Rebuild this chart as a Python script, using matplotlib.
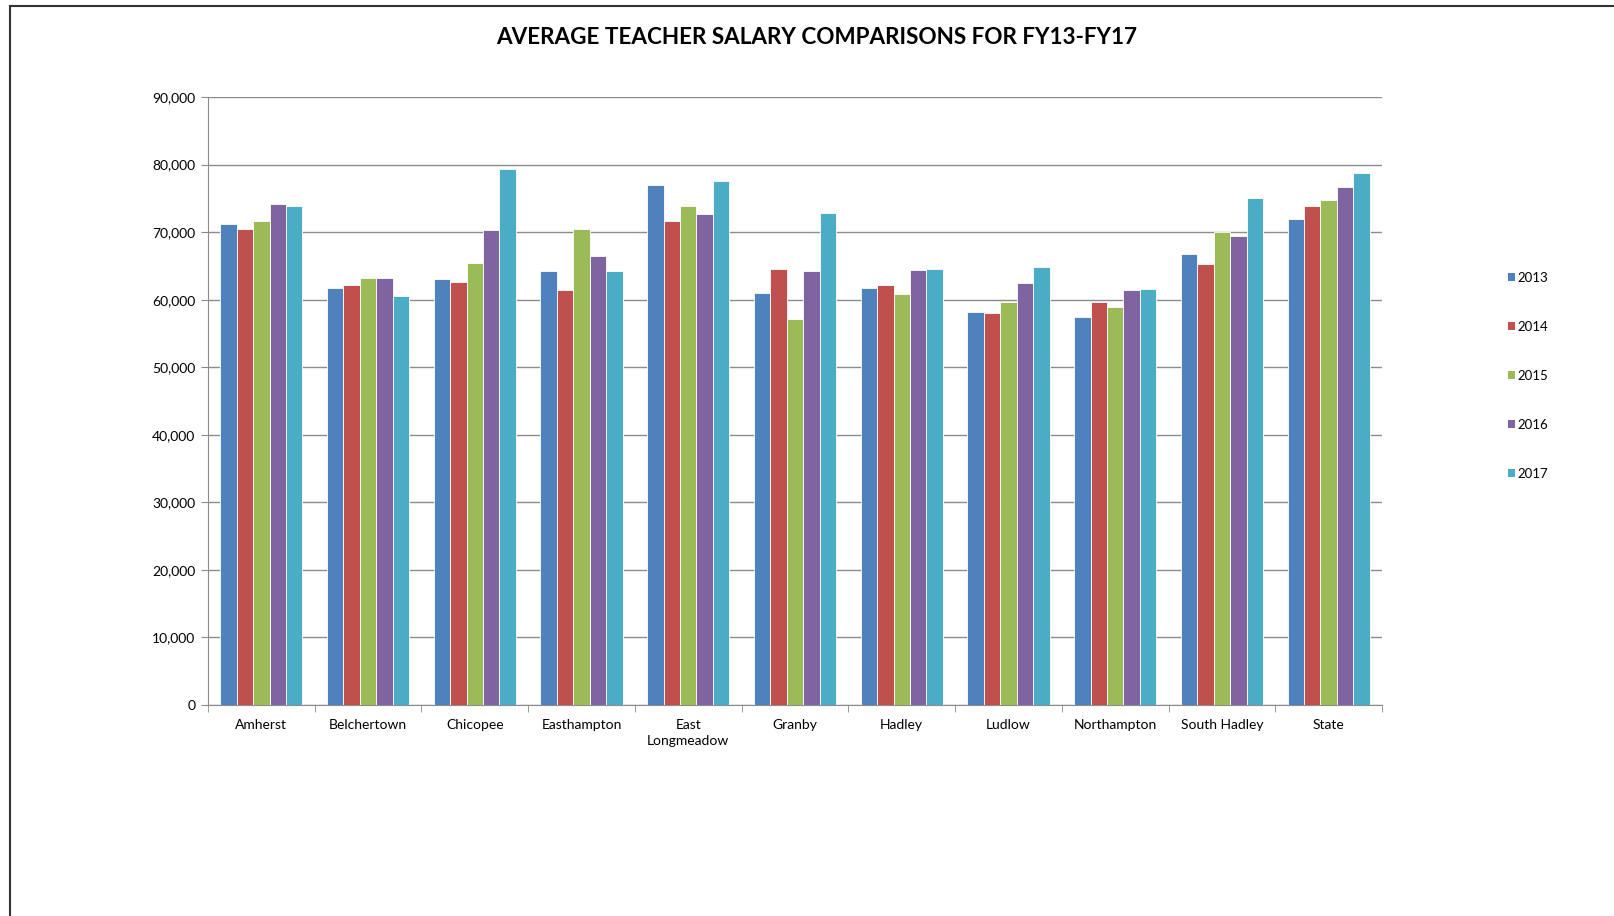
import numpy as np
import matplotlib.pyplot as plt
from matplotlib.lines import Line2D
from matplotlib.patches import Patch

plt.rcParams['font.family'] = ['Lato', 'DejaVu Sans']

# === Data ===
towns = ['Amherst', 'Belchertown', 'Chicopee', 'Easthampton', 'East\nLongmeadow',
         'Granby', 'Hadley', 'Ludlow', 'Northampton', 'South Hadley', 'State']
years = ['2013', '2014', '2015', '2016', '2017']
fy13 = [71200, 61700, 63000, 64300, 76900, 61000, 61700, 58200, 57500, 66800, 72000]
fy14 = [70400, 62100, 62600, 61500, 71600, 64600, 62100, 58100, 59700, 65300, 73800]
fy15 = [71700, 63200, 65400, 70500, 73800, 57200, 60900, 59700, 58900, 70000, 74700]
fy16 = [74100, 63200, 70300, 66500, 72700, 64200, 64400, 62400, 61400, 69400, 76700]
fy17 = [73800, 60600, 79300, 64200, 77500, 72900, 64600, 64900, 61600, 75000, 78700]
series = [fy13, fy14, fy15, fy16, fy17]
colors = ['#4F81BD', '#C0504D', '#9BBB59', '#8064A2', '#4BACC6']

W, H = 1615, 916
fig = plt.figure(figsize=(W / 100, H / 100), dpi=100)
ax = fig.add_axes([208 / W, 1 - 705 / H, (1382 - 208) / W, (705 - 97) / H])

x = np.arange(len(towns))
bw = 1 / 6.5
for i, (vals, c) in enumerate(zip(series, colors)):
    ax.bar(x + (i - 2) * bw, vals, width=bw, color=c, edgecolor='white',
           linewidth=0.6, zorder=3)

ax.set_xlim(-0.5, len(towns) - 0.5)
ax.set_ylim(0, 90000)
ax.set_yticks(np.arange(0, 90001, 10000))
ax.set_yticklabels([f'{v:,}' for v in range(0, 90001, 10000)], fontsize=10)
ax.yaxis.grid(True, color='#8c8c8c', linewidth=1, zorder=0)
ax.tick_params(axis='y', length=5, color='#8c8c8c', pad=4)

ax.set_xticks(x)
ax.set_xticklabels(towns, fontsize=10, linespacing=1.45)
ax.set_xticks(np.arange(-0.5, len(towns)), minor=True)
ax.tick_params(axis='x', which='major', length=0, pad=10)
ax.tick_params(axis='x', which='minor', length=5, color='#8c8c8c')

for s in ['top', 'right']:
    ax.spines[s].set_visible(False)
for s in ['left', 'bottom']:
    ax.spines[s].set_color('#8c8c8c')

fig.text(817 / W, 1 - 37 / H, 'AVERAGE TEACHER SALARY COMPARISONS FOR FY13-FY17',
         ha='center', va='center', fontsize=16.2, fontweight='bold')

handles = [Patch(facecolor=c, edgecolor='none') for c in colors]
fig.legend(handles, years, loc='center left', bbox_to_anchor=(1508 / W, 1 - 376 / H),
           frameon=False, fontsize=9.5, handlelength=0.55, handleheight=0.55,
           handletextpad=0.2, labelspacing=2.8, borderpad=0, borderaxespad=0)

# outer border of the chart area (top and left edges)
fig.add_artist(Line2D([10 / W, 1], [1 - 6 / H, 1 - 6 / H], color='#333333', lw=1.5))
fig.add_artist(Line2D([10 / W, 10 / W], [0, 1 - 6 / H], color='#333333', lw=1.5))

fig.savefig('out.png', dpi=100)
